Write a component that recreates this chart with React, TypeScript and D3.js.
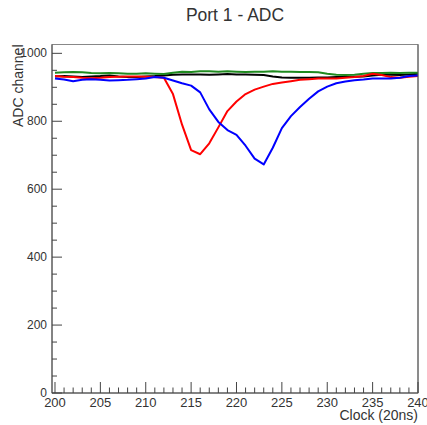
import React from "react";
import * as d3 from "d3";

const clocks = d3.range(200, 241);
const blackSeries = [932,933,932,930,932,933,935,932,930,930,932,933,935,937,938,938,938,937,938,939,938,938,937,936,932,929,928,928,928,929,929,930,930,931,932,935,937,937,936,938,940];
const greenSeries = [943,944,945,944,942,941,942,941,940,940,941,940,939,943,946,945,947,947,946,947,946,945,946,946,947,946,946,945,945,944,940,937,936,937,940,942,942,943,942,943,943];
const redSeries = [933,931,930,928,927,928,930,931,932,932,931,930,928,880,790,715,703,735,782,830,858,880,893,902,910,914,918,922,924,926,926,926,928,930,933,940,936,930,928,931,933];
const blueSeries = [926,923,918,922,924,922,920,921,922,924,926,930,928,920,912,905,885,835,798,774,760,728,690,673,722,780,815,842,866,888,902,912,917,921,923,926,926,926,928,933,935];

const xMajor = [200, 205, 210, 215, 220, 225, 230, 235, 240];
const yMajor = [0, 200, 400, 600, 800, 1000];
const title = "Port 1 - ADC";
const xTitle = "Clock (20ns)";
const yTitle = "ADC channel";

const W = 427, H = 425;
const L = 52, R = 418, T = 44.5, B = 393;

export default function App() {
  const x = d3.scaleLinear().domain([199.67, 240]).range([L, R]);
  const y = d3.scaleLinear().domain([0, 1026]).range([B, T]);
  const line = d3.line<number>().x((_, i) => x(clocks[i])).y((d) => y(d));
  const xMinor = d3.range(200, 241, 1).filter((v) => v % 5 !== 0);
  const yMinor = d3.range(0, 1001, 50).filter((v) => v % 200 !== 0);
  const series: [number[], string][] = [
    [blackSeries, "#000000"],
    [greenSeries, "#1f8a1f"],
    [redSeries, "#ff0000"],
    [blueSeries, "#0000ff"],
  ];
  const font = "Liberation Sans, Arial, Helvetica, sans-serif";
  return (
    <svg width={W} height={H} style={{ position: "absolute", left: 0, top: 0, background: "#fff" }} fontFamily={font}>
      <rect x={0} y={0} width={W} height={H} fill="#fff" />
      <text x={(L + R) / 2} y={21} textAnchor="middle" fontSize={17.5} fill="#333">{title}</text>
      <rect x={L} y={T} width={R - L} height={B - T} fill="none" stroke="#888" strokeWidth={1} />
      <g>
        {series.map(([d, c], i) => (
          <path key={i} d={line(d) || ""} fill="none" stroke={c} strokeWidth={2} strokeLinejoin="round" />
        ))}
      </g>
      <line x1={L} x2={L} y1={T} y2={B} stroke="#444" />
      <line x1={L} x2={R} y1={B} y2={B} stroke="#444" />
      <line x1={R} x2={R} y1={T} y2={B} stroke="#555" />
      {xMajor.map((v) => (
        <g key={"xm" + v}>
          <line x1={x(v)} x2={x(v)} y1={B} y2={B - 11} stroke="#444" />
          <text x={x(v)} y={407} textAnchor="middle" fontSize={13} fill="#333">{v}</text>
        </g>
      ))}
      {xMinor.map((v) => (
        <line key={"xn" + v} x1={x(v)} x2={x(v)} y1={B} y2={B - 5.5} stroke="#444" />
      ))}
      {yMajor.map((v) => (
        <g key={"ym" + v}>
          <line x1={L} x2={L + 10} y1={y(v)} y2={y(v)} stroke="#444" />
          <text x={47} y={y(v) + 4} textAnchor="end" fontSize={12} fill="#333">{v}</text>
        </g>
      ))}
      {yMinor.map((v) => (
        <line key={"yn" + v} x1={L} x2={L + 5} y1={y(v)} y2={y(v)} stroke="#444" />
      ))}
      <text x={R} y={420} textAnchor="end" fontSize={14} fill="#333">{xTitle}</text>
      <text transform={`translate(23,${T}) rotate(-90)`} textAnchor="end" fontSize={14} fill="#333">{yTitle}</text>
    </svg>
  );
}
